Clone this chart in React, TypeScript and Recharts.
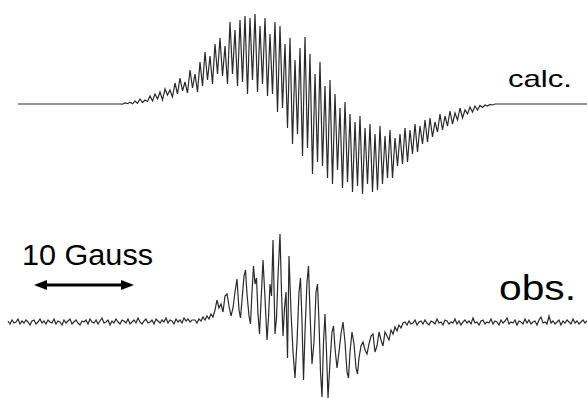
import React from 'react';
import { LineChart, Line, XAxis, YAxis, ReferenceLine } from 'recharts';

// field axis in Gauss; amplitudes in arbitrary units (up = positive)
const FIELD_MAX = 58.7;

// calc. spectrum: flat ends + dense part sampled every 0.25 G from 12.0 G
const calcFlatStart = [1.8, 12.0];
const calcStart = 12.0;
const calcStep = 0.25;
const calcValues = [
  0.5, -0.2, 1, 0.3,
  1.8, 0.2, 3, 0.8,
  5, 1.5, 4, 2.5,
  8, 3, 10, 5,
  12, 4, 15, 9,
  14, 7, 21, 10,
  26, 13, 22, 11,
  34, 16, 30, 12,
  42, 18, 52, 24,
  48, 20, 60, 30,
  66, 28, 58, 20,
  82, 30, 74, 18,
  84, 22, 88, 10,
  86, 24, 90, 12,
  78, 20, 86, 8,
  70, 10, 82, -8,
  78, -4, 60, -24,
  66, -40, 44, -30,
  56, -52, 67, -44,
  50, -70, 30, -58,
  42, -62, 18, -74,
  24, -80, 10, -66,
  -4, -84, 2, -78,
  -10, -88, -18, -82,
  -12, -90, -24, -80,
  -20, -88, -30, -86,
  -22, -80, -32, -74,
  -26, -74, -34, -62,
  -30, -60, -24, -58,
  -26, -50, -20, -48,
  -22, -40, -16, -38,
  -14, -33, -18, -28,
  -10, -26, -12, -22,
  -7, -20, -9, -16,
  -4, -14, -6, -10,
  -3, -8, -2, -6,
  -1.5, -3.5, -1, -2,
  -0.5, -1, 0, 0,
];
const calcFlatEnd = [50.0, 58.7];

// obs. spectrum: noisy baseline left, signal, noisy baseline right
const obsLeftStart = 0.8;
const obsLeftStep = 0.2;
const obsLeftNoise = [
  1, -2, 2, -1, 0, 3, -2, 1, -1, 2, 0, -3, 1, 2, -2, 0, 3, -1, 1, -2,
  2, 0, -1, 3, -2, 1, 0, -3, 2, -1, 1, 3, -2, 0, 2, -1, -3, 1, 0, 2,
  -2, 3, 0, -1, 2, -2, 1, 4, -1, 0, 2, -3, 1, -1, 3, 0, -2, 2, 1, -1,
  3, -2, 0, 2, -1, 4, 0, -2, 1, 3, -1, 0, 2, -2, 3, 1, -1, 2, 0, 4,
  -1, 2, 1, -2, 3, 0, 2, -1, 4, 1, 3, 0, 2,
];
const obsSignalField = [
  19.5, 19.7, 19.9, 20.1, 20.3, 20.5, 20.7, 20.9, 21.1, 21.3, 21.5, 21.7, 21.9, 22.1, 22.3,
  22.5, 22.7, 22.9, 23.1, 23.3, 23.5, 23.7, 23.9, 24.05, 24.2, 24.4, 24.55, 24.7, 24.9, 25.05,
  25.2, 25.35, 25.5, 25.65, 25.8, 25.95, 26.1, 26.3, 26.5, 26.7, 26.85, 27.0, 27.15, 27.3, 27.5,
  27.65, 27.8, 28.0, 28.15, 28.3, 28.45, 28.6, 28.75, 28.9, 29.1, 29.3, 29.5, 29.7, 29.9, 30.05,
  30.2, 30.35, 30.5, 30.7, 30.85, 31.0, 31.2, 31.4, 31.6, 31.75, 31.9, 32.05, 32.2, 32.35, 32.5,
  32.65, 32.8, 33.0, 33.2, 33.35, 33.5, 33.7, 33.9, 34.1, 34.3, 34.5, 34.7, 34.85, 35.0, 35.2,
  35.4, 35.6, 35.75, 35.9, 36.1, 36.3, 36.5, 36.7, 36.9, 37.1, 37.3, 37.5, 37.7, 37.9, 38.1,
  38.3, 38.5, 38.7, 38.9, 39.1, 39.3, 39.5, 39.7, 39.9, 40.1, 40.3,
];
const obsSignalValue = [
  2, -1, 3, 1, 5, 2, 6, 3, 8, 5, 12, 22, 14, 18, 10,
  26, 28, 16, 6, 14, 30, 43, 12, 4, 22, 46, 52, 28, 6, -2,
  30, 56, 38, 44, 8, -12, 20, 62, 24, -18, 4, 38, 26, 82, -12,
  4, 46, 88, 30, -14, 14, 30, -36, 66, 10, -30, -56, -20, 30, 44,
  0, -58, -10, 40, 56, 10, -42, -20, 30, 38, 0, -50, -75, -20, 8,
  -30, -76, -40, -10, -4, -26, -46, -30, -12, 0, -20, -50, -56, -30, -10,
  -22, -46, -52, -36, -24, -20, -28, -32, -22, -14, -12, -30, -24, -10, -18,
  -24, -10, -14, -18, -8, -12, -5, -9, -3, -6, -1,
];
const obsRightStart = 40.5;
const obsRightStep = 0.2;
const obsRightNoise = [
  0, -3, 1, -2, -1, 2, -3, 0, 1, -2, 2, -1, -3, 1, 0, -2, 3, -1, 0, -3,
  2, 1, -2, 0, -1, 3, -2, 1, -3, 0, 2, -1, 1, -2, 4, -1, 0, -3, 1, 2,
  -2, 0, -1, 3, -2, 1, 0, -3, 2, -1, 1, 4, -2, 0, -1, 2, -3, 1, 0, -2,
  3, -1, 2, -2, 0, 1, -3, 2, 5, -1, 0, -2, 6, -1, 1, -2, 0, 2, -3, 1,
  -1, 2, 0, -2, 3, -1, 1, -2, 0, 2, -1, 1,
];

const calcData = [
  ...calcFlatStart.map((f) => ({ f, v: 0 })),
  ...calcValues.map((v, i) => ({ f: calcStart + i * calcStep, v })).slice(1),
  ...calcFlatEnd.map((f) => ({ f, v: 0 })),
];

const obsData = [
  ...obsLeftNoise.map((v, i) => ({ f: obsLeftStart + i * obsLeftStep, v })),
  ...obsSignalField.map((f, i) => ({ f, v: obsSignalValue[i] })),
  ...obsRightNoise.map((v, i) => ({ f: obsRightStart + i * obsRightStep, v })),
];

const scaleBar = { from: 3.4, to: 13.4, level: 37 };

const ArrowShape = (props: any) => {
  const { x1, y1, x2, y2 } = props;
  const h = 13;
  const w = 5;
  return (
    <g>
      <line x1={x1 + h - 2} y1={y1} x2={x2 - h + 2} y2={y2} stroke="#000" strokeWidth={3} />
      <polygon points={`${x1},${y1} ${x1 + h},${y1 - w} ${x1 + h},${y1 + w}`} fill="#000" />
      <polygon points={`${x2},${y2} ${x2 - h},${y2 - w} ${x2 - h},${y2 + w}`} fill="#000" />
    </g>
  );
};

const font = '"Liberation Sans", Arial, sans-serif';

export default function App() {
  return (
    <div style={{ position: 'absolute', left: 0, top: 0, width: 587, height: 398, background: '#fff' }}>
      <div style={{ position: 'absolute', left: 0, top: 0 }}>
        <LineChart width={587} height={200} data={calcData} margin={{ top: 0, right: 0, bottom: 0, left: 0 }}>
          <XAxis dataKey="f" type="number" domain={[0, FIELD_MAX]} hide />
          <YAxis type="number" domain={[-96, 104]} hide />
          <Line type="linear" dataKey="v" stroke="#2a2a2a" strokeWidth={1.2} dot={false} activeDot={false} isAnimationActive={false} />
        </LineChart>
      </div>
      <div style={{ position: 'absolute', left: 0, top: 200 }}>
        <LineChart width={587} height={198} data={obsData} margin={{ top: 0, right: 0, bottom: 0, left: 0 }}>
          <XAxis dataKey="f" type="number" domain={[0, FIELD_MAX]} hide />
          <YAxis type="number" domain={[-76, 122]} hide />
          <Line type="linear" dataKey="v" stroke="#2a2a2a" strokeWidth={1.2} dot={false} activeDot={false} isAnimationActive={false} />
          <ReferenceLine
            segment={[{ x: scaleBar.from, y: scaleBar.level }, { x: scaleBar.to, y: scaleBar.level }]}
            shape={ArrowShape}
            ifOverflow="visible"
          />
        </LineChart>
      </div>
      <svg width={587} height={398} style={{ position: 'absolute', left: 0, top: 0, pointerEvents: 'none' }}>
        <text x={508} y={87} fontFamily={font} fontSize={24} textLength={64} lengthAdjust="spacingAndGlyphs" fill="#000">calc.</text>
        <text x={22} y={265} fontFamily={font} fontSize={30} textLength={131} lengthAdjust="spacingAndGlyphs" fill="#000">10 Gauss</text>
        <text x={499} y={300} fontFamily={font} fontSize={35} textLength={77} lengthAdjust="spacingAndGlyphs" fill="#000">obs.</text>
      </svg>
    </div>
  );
}
